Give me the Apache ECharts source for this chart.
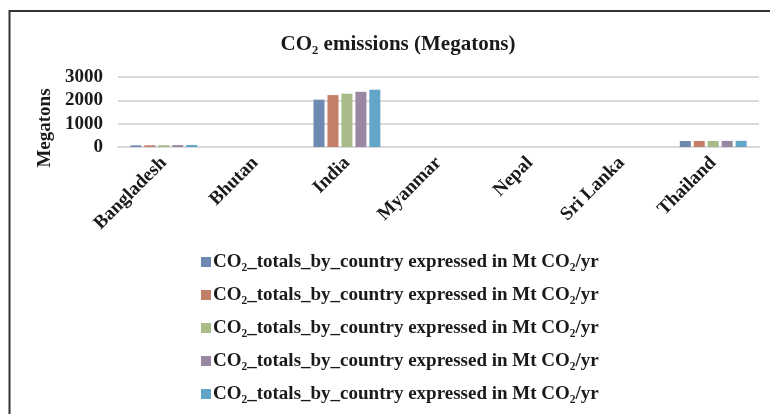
<!DOCTYPE html>
<html>
<head>
<meta charset="utf-8">
<script src="https://cdn.jsdelivr.net/npm/echarts@6/dist/echarts.min.js"></script>
<style>
html,body{margin:0;padding:0;background:#fff;}
#chart{width:770px;height:414px;}
</style>
</head>
<body>
<div id="chart"></div>
<script>
// Data
var categories = ['Bangladesh', 'Bhutan', 'India', 'Myanmar', 'Nepal', 'Sri Lanka', 'Thailand'];
var seriesIds = ['s1', 's2', 's3', 's4', 's5'];
var seriesLabel = 'CO\u2082_totals_by_country expressed in Mt CO\u2082/yr';
var values1 = [70, 0.5, 2030, 1, 1, 1, 258];
var values2 = [74, 0.5, 2225, 1, 1, 1, 260];
var values3 = [78, 0.5, 2285, 1, 1, 1, 260];
var values4 = [82, 0.5, 2365, 1, 1, 1, 262];
var values5 = [88, 0.5, 2455, 1, 1, 1, 264];
var yTicks = [0, 1000, 2000, 3000];
var titleText = 'CO\u2082 emissions (Megatons)';
var yAxisTitle = 'Megatons';

var allValues = [values1, values2, values3, values4, values5];
var colors = ['#6E8AB1', '#C47F69', '#A9BB88', '#9A87A4', '#62A5C9'];
var fontFam = '"Liberation Serif", "Times New Roman", "DejaVu Serif", serif';

var chart = echarts.init(document.getElementById('chart'), null, {renderer: 'canvas'});
var series = seriesIds.map(function (id, i) {
  return {
    name: id,
    type: 'bar',
    data: allValues[i],
    itemStyle: {color: colors[i]},
    barGap: '27%',
    barCategoryGap: '27%'
  };
});

chart.setOption({
  animation: false,
  backgroundColor: '#fff',
  color: colors,
  title: {
    text: titleText,
    left: 393,
    top: 29,
    textAlign: 'center',
    textStyle: {fontFamily: fontFam, fontWeight: 'bold', fontSize: 21, color: '#1a1a1a'}
  },
  grid: {left: 118, right: 11, top: 77, bottom: 267, containLabel: false},
  xAxis: {
    type: 'category',
    data: categories,
    axisLine: {lineStyle: {color: '#D9D9D9', width: 2}},
    axisTick: {show: false},
    axisLabel: {
      rotate: 45, margin: 13, interval: 0,
      fontFamily: fontFam, fontWeight: 'bold', fontSize: 19, color: '#1a1a1a'
    }
  },
  yAxis: {
    type: 'value',
    min: 0, max: 3000, interval: 1000,
    axisLine: {show: false},
    axisTick: {show: false},
    splitLine: {lineStyle: {color: '#D9D9D9', width: 2}},
    axisLabel: {
      margin: 15,
      fontFamily: fontFam, fontWeight: 'bold', fontSize: 19, color: '#1a1a1a',
      formatter: function (v) { return yTicks.indexOf(v) >= 0 ? String(v) : ''; }
    }
  },
  legend: {
    orient: 'vertical',
    left: 196,
    top: 247,
    itemWidth: 10,
    itemHeight: 10,
    itemGap: 13,
    icon: 'rect',
    data: seriesIds,
    formatter: function () { return seriesLabel; },
    textStyle: {fontFamily: fontFam, fontWeight: 'bold', fontSize: 19, color: '#1a1a1a', lineHeight: 20, padding: [0,0,0,-3]}
  },
  graphic: [
    {
      type: 'rect',
      shape: {x: 9.5, y: 11, width: 800, height: 500},
      style: {fill: null, stroke: '#333', lineWidth: 2},
      silent: true
    },
    {
      type: 'text',
      x: 45, y: 128,
      rotation: Math.PI / 2,
      style: {
        text: yAxisTitle, fontFamily: fontFam, fontWeight: 'bold', fontSize: 19,
        fill: '#1a1a1a', align: 'center', verticalAlign: 'middle'
      },
      silent: true
    }
  ],
  series: series
});
</script>
</body>
</html>
